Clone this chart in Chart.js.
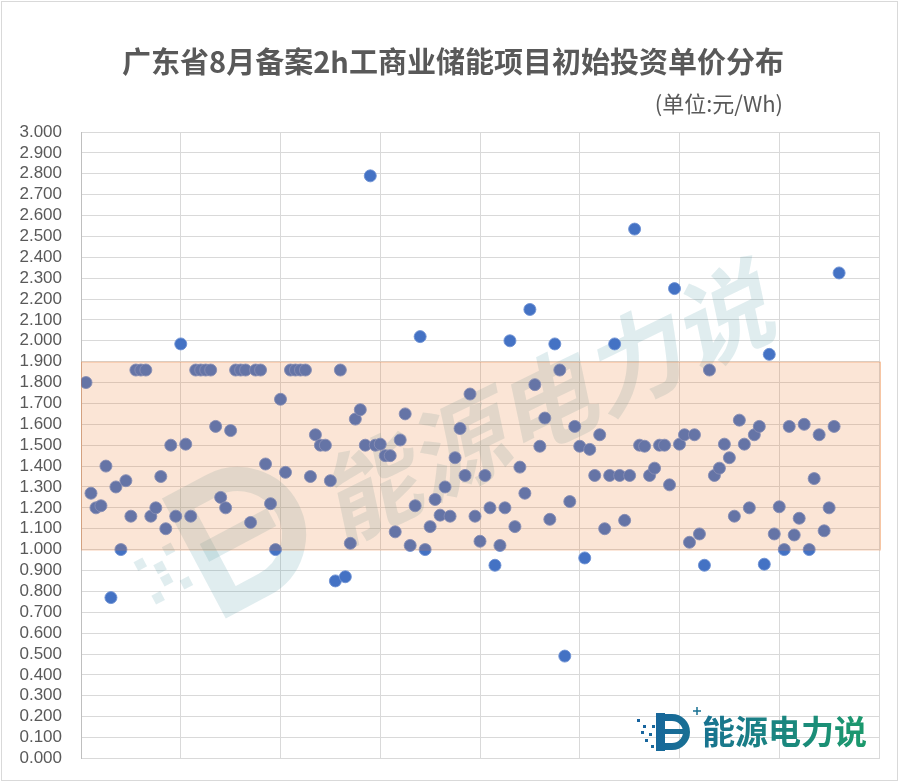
<!DOCTYPE html>
<html>
<head>
<meta charset="utf-8">
<script src="https://cdn.jsdelivr.net/npm/chart.js@4"></script>
<style>
  html, body { margin: 0; padding: 0; background: #fff; }
  #wrap { width: 901px; height: 783px; position: relative; }
</style>
</head>
<body>
<div id="wrap"><canvas id="myChart" width="901" height="783"></canvas></div>
<script>
const titleText = "广东省8月备案2h工商业储能项目初始投资单价分布";
const unitText = "(单位:元/Wh)";
const brandText = "能源电力说";

// project order (x) and initial investment unit price (y), 元/Wh
const prices = [
  1.80, 1.27, 1.20, 1.21, 1.40, 0.77, 1.30, 1.00, 1.33, 1.16,
  1.86, 1.86, 1.86, 1.16, 1.20, 1.35, 1.10, 1.50, 1.16, 1.985,
  1.505, 1.16, 1.86, 1.86, 1.86, 1.86, 1.59, 1.25, 1.20, 1.57,
  1.86, 1.86, 1.86, 1.13, 1.86, 1.86, 1.41, 1.22, 1.00, 1.72,
  1.37, 1.86, 1.86, 1.86, 1.86, 1.35, 1.55, 1.50, 1.50, 1.33,
  0.85, 1.86, 0.87, 1.03, 1.625, 1.67, 1.50, 2.79, 1.50, 1.505,
  1.45, 1.45, 1.085, 1.525, 1.65, 1.02, 1.21, 2.02, 1.00, 1.11,
  1.24, 1.165, 1.30, 1.16, 1.44, 1.58, 1.355, 1.745, 1.16, 1.04,
  1.355, 1.20, 0.925, 1.02, 1.20, 2.00, 1.11, 1.395, 1.27, 2.15,
  1.79, 1.495, 1.63, 1.145, 1.985, 1.86, 0.49, 1.23, 1.59, 1.495,
  0.96, 1.48, 1.355, 1.55, 1.10, 1.355, 1.985, 1.355, 1.14, 1.355,
  2.535, 1.50, 1.495, 1.355, 1.39, 1.50, 1.50, 1.31, 2.25, 1.505,
  1.55, 1.035, 1.55, 1.075, 0.925, 1.86, 1.355, 1.39, 1.505, 1.44,
  1.16, 1.62, 1.505, 1.20, 1.55, 1.59, 0.93, 1.935, 1.075, 1.205,
  1.00, 1.59, 1.07, 1.15, 1.60, 1.00, 1.34, 1.55, 1.09, 1.20,
  1.59, 2.325
];

const xRange = [0, 160];
const xStep = 20;
const yRange = [0, 3];
const yStep = 0.1;
const bandRange = [1.0, 1.9]; // shaded "main range"

const points = prices.map((p, i) => ({ x: i + 1, y: p }));

const gray = "#595959";
const wmColor = "rgba(70, 150, 160, 0.17)";

// frame, title and unit
const decorPlugin = {
  id: "decor",
  beforeDraw(chart) {
    const c = chart.ctx;
    c.save();
    c.fillStyle = "#fff";
    c.fillRect(0, 0, chart.width, chart.height);
    c.strokeStyle = "#d9d9d9";
    c.lineWidth = 1;
    c.strokeRect(1.5, 1.5, 896, 779);
    c.fillStyle = gray;
    c.textBaseline = "middle";
    c.textAlign = "center";
    c.font = 'bold 29px "Noto Sans CJK SC"';
    c.fillText(titleText, 453, 62);
    c.textAlign = "right";
    c.font = '22px "Noto Sans CJK SC"';
    c.fillText(unitText, 783, 104);
    c.restore();
  },
};

// big diagonal watermark behind the points
const watermarkPlugin = {
  id: "watermark",
  beforeDatasetsDraw(chart) {
    const c = chart.ctx;
    c.save();
    c.fillStyle = wmColor;
    c.translate(552, 400);
    c.rotate(-26 * Math.PI / 180);
    c.transform(1, 0, -0.25, 1, 0, 0);
    c.textAlign = "center";
    c.textBaseline = "middle";
    c.font = 'bold 98px "Noto Sans CJK SC"';
    c.fillText(brandText, 0, 0);
    c.restore();

    c.save();
    c.translate(238, 535);
    c.rotate(-28 * Math.PI / 180);
    c.strokeStyle = wmColor;
    c.fillStyle = wmColor;
    c.lineWidth = 24;
    c.beginPath();
    c.arc(0, 0, 56, -Math.PI / 2, Math.PI / 2);
    c.lineTo(-38, 56);
    c.lineTo(-38, -56);
    c.closePath();
    c.stroke();
    c.fillRect(-38, -10, 76, 20);
    for (let k = 0; k < 6; k++) {
      c.fillRect(-105 + (k % 3) * 16, -25 + Math.floor(k / 3) * 26 + (k % 2) * 12, 10, 10);
    }
    c.restore();
  },
  afterDatasetsDraw(chart) {
    // shaded band drawn over the points, like the original
    const { ctx: c, chartArea: a, scales } = chart;
    const yTop = scales.y.getPixelForValue(bandRange[1]);
    const yBot = scales.y.getPixelForValue(bandRange[0]);
    c.save();
    c.fillStyle = "rgba(237, 125, 49, 0.2)";
    c.fillRect(a.left, yTop, a.right - a.left + 2, yBot - yTop);
    c.strokeStyle = "rgba(237, 125, 49, 0.3)";
    c.lineWidth = 1;
    c.strokeRect(a.left + 0.5, yTop + 0.5, a.right - a.left + 1, yBot - yTop);
    c.restore();
  },
  afterDraw(chart) {
    // brand mark, bottom right
    const c = chart.ctx;
    c.save();
    const grad = c.createLinearGradient(640, 712, 865, 750);
    grad.addColorStop(0, "#17639f");
    grad.addColorStop(1, "#1c9a6c");
    c.fillStyle = grad;
    c.strokeStyle = grad;
    for (let k = 0; k < 7; k++) {
      const dx = [637, 643, 649, 645, 651, 641, 652][k];
      const dy = [719, 725, 733, 739, 745, 731, 725][k];
      c.fillRect(dx, dy, 3, 3);
    }
    c.fillRect(656, 713, 9, 38);
    c.lineWidth = 7;
    c.beginPath();
    c.arc(672, 732, 14.5, -Math.PI / 2, Math.PI / 2);
    c.lineTo(662, 746.5);
    c.moveTo(662, 717.5);
    c.lineTo(672, 717.5);
    c.stroke();
    c.fillRect(662, 729, 22, 5);
    c.lineWidth = 1.5;
    c.beginPath();
    c.moveTo(693, 711); c.lineTo(701, 711);
    c.moveTo(697, 707); c.lineTo(697, 715);
    c.stroke();
    c.font = 'bold 33px "Noto Sans CJK SC"';
    c.textBaseline = "middle";
    c.textAlign = "left";
    c.fillText(brandText, 702, 731);
    c.restore();
  },
};

new Chart(document.getElementById("myChart"), {
  type: "scatter",
  data: {
    datasets: [
      {
        label: "初始投资单价",
        data: points,
        pointRadius: 6,
        pointHoverRadius: 6,
        backgroundColor: "#4472C4",
        borderColor: "rgba(110, 145, 212, 0.9)",
        borderWidth: 1,
      },
    ],
  },
  options: {
    responsive: false,
    animation: false,
    layout: { padding: { top: 132, right: 22, bottom: 24.6, left: 0 } },
    plugins: {
      legend: { display: false },
      tooltip: { enabled: false },
    },
    scales: {
      x: {
        type: "linear",
        min: xRange[0],
        max: xRange[1],
        ticks: { stepSize: xStep, display: false },
        grid: { color: "#d9d9d9", drawTicks: false },
        border: { color: "#d9d9d9" },
        afterFit: (s) => { s.height = 0; },
      },
      y: {
        min: yRange[0],
        max: yRange[1],
        ticks: {
          stepSize: yStep,
          autoSkip: false,
          color: gray,
          padding: 19,
          font: { family: '"Liberation Sans", Arial, sans-serif', size: 17 },
          callback: (v) => v.toFixed(3),
        },
        grid: { color: "#d9d9d9", drawTicks: false },
        border: { color: "#bfbfbf" },
        afterFit: (s) => {
          s.width = 81;
          s.paddingTop = 0;
          s.paddingBottom = 0;
        },
      },
    },
  },
  plugins: [decorPlugin, watermarkPlugin],
});
</script>
</body>
</html>
